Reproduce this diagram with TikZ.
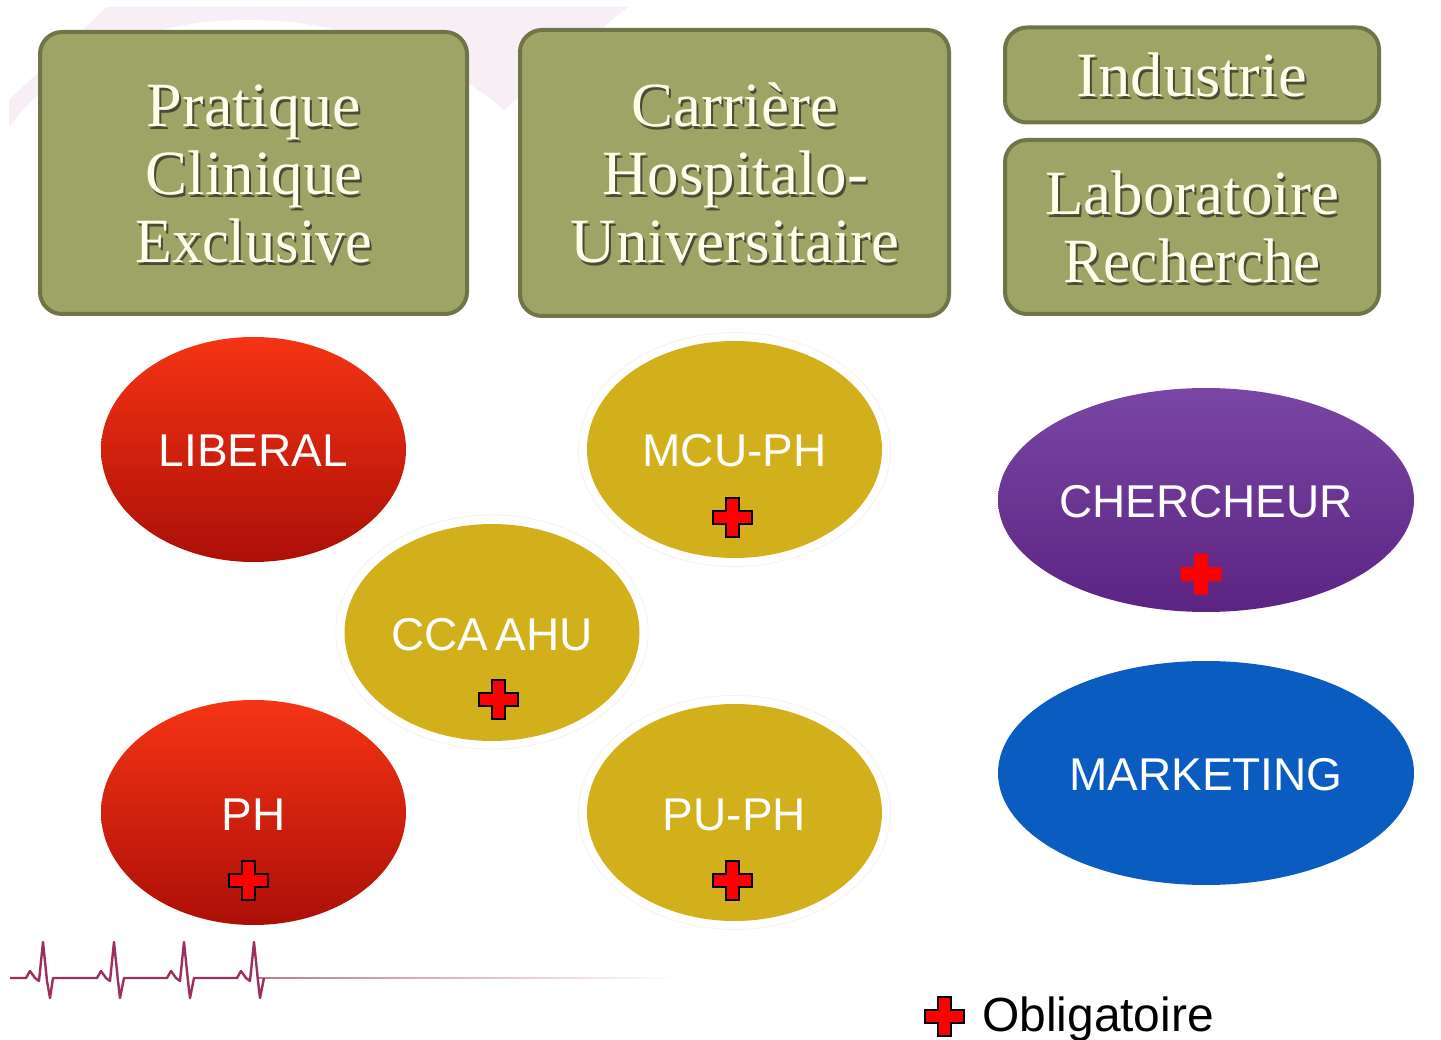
\documentclass[tikz,border=0pt]{standalone}
\usepackage{graphicx}
\usepackage{fontspec}
\setmainfont{Liberation Serif}
\setsansfont{Liberation Sans}
\usetikzlibrary{shapes.geometric}
\definecolor{olivefill}{HTML}{9EA465}
\definecolor{oliveline}{HTML}{6F7547}
\definecolor{goldfill}{HTML}{D2B01C}
\definecolor{ecg}{HTML}{9A2F60}
\definecolor{wm}{HTML}{F8EFF6}
\newcommand{\wdfit}[2]{\scalebox{#1}[1]{#2}}
\tikzset{
  x=1pt,y=-1pt,
  panel/.style={draw=oliveline,line width=4pt,fill=olivefill,rounded corners=22pt,inner sep=0pt,outer sep=0pt},
  paneltext/.style={font=\fontsize{63}{68}\selectfont,align=center,text=white!92!yellow,inner sep=0pt},
  panelshadow/.style={font=\fontsize{63}{68}\selectfont,align=center,text=black!80!olive,opacity=.8,inner sep=0pt},
  oval/.style={ellipse,inner sep=0pt,outer sep=0pt,text=white,font=\sffamily\fontsize{46}{50}\selectfont,text height=35pt,text depth=0pt},
  redoval/.style={oval,minimum width=305pt,minimum height=225pt,top color={rgb,255:red,245;green,52;blue,20},bottom color={rgb,255:red,172;green,15;blue,8}},
  goldoval/.style={oval,minimum width=295pt,minimum height=217pt,fill=goldfill},
  halo/.style={ellipse,minimum width=312pt,minimum height=234pt,inner sep=0pt,draw=black!5,line width=.8pt,fill=white},
  bigoval/.style={oval,minimum width=416pt,minimum height=224pt},
  crossmark/.style={fill=red,draw=black,line width=2pt,line join=miter},
  crossplain/.style={fill=red},
  redcross/.pic={
    \path[crossmark] (-6.5,-19.5) -- (6.5,-19.5) -- (6.5,-6.5) -- (19.5,-6.5) -- (19.5,6.5) -- (6.5,6.5) -- (6.5,19.5) -- (-6.5,19.5) -- (-6.5,6.5) -- (-19.5,6.5) -- (-19.5,-6.5) -- (-6.5,-6.5) -- cycle;
  },
  plaincross/.pic={
    \path[crossplain] (-7,-20.5) -- (7,-20.5) -- (7,-7) -- (20.5,-7) -- (20.5,7) -- (7,7) -- (7,20.5) -- (-7,20.5) -- (-7,7) -- (-20.5,7) -- (-20.5,-7) -- (-7,-7) -- cycle;
  }
}
\begin{document}
\begin{tikzpicture}
\useasboundingbox (0,0) rectangle (1441,1040);
% watermark
\fill[wm] (107,7) -- (628,7) -- (504,110)
  .. controls (440,55) and (340,18) .. (240,20)
  .. controls (140,22) and (60,60) .. (9,127)
  -- (9,100) -- cycle;
% panels
\node[panel,minimum width=427pt,minimum height=282pt] (b1) at (253.5,173) {};
\node[panel,minimum width=429pt,minimum height=286pt] (b2) at (734.5,173) {};
\node[panel,minimum width=374pt,minimum height=95pt] (b3) at (1192,75) {};
\node[panel,minimum width=374pt,minimum height=174pt] (b4) at (1192,227) {};
\node[panelshadow] (s1) at (256,176.5) {\wdfit{1.02}{Pratique}\\Clinique\\\wdfit{.955}{Exclusive}};
\node[paneltext] (t1) at (254,174) {\wdfit{1.02}{Pratique}\\Clinique\\\wdfit{.955}{Exclusive}};
\node[panelshadow] (s2) at (737,175.5) {Carrière\\Hospitalo-\\Universitaire};
\node[paneltext] (t2) at (735,173) {Carrière\\Hospitalo-\\Universitaire};
\node[panelshadow] (s3) at (1194,77.5) {\wdfit{1.03}{Industrie}};
\node[paneltext] (t3) at (1192,75) {\wdfit{1.03}{Industrie}};
\node[panelshadow] (s4) at (1194,229.5) {Laboratoire\\\wdfit{.97}{Recherche}};
\node[paneltext] (t4) at (1192,227) {Laboratoire\\\wdfit{.97}{Recherche}};
% ovals
\node[redoval] (liberal) at (253.5,449.5) {LIBERAL};
\node[redoval] (ph) at (253.5,812.5) {PH};
\node[halo] (h1) at (734.5,449.5) {};
\node[halo] (h2) at (492,632) {};
\node[halo] (h3) at (734.5,812.5) {};
\node[goldoval] (mcu) at (734.5,449.5) {MCU-PH};
\node[goldoval] (cca) at (492,632.5) {CCA\kern-.13em{} AHU};
\node[goldoval] (pu) at (734.5,812.5) {PU-PH};
\node[bigoval,top color={rgb,255:red,122;green,70;blue,163},bottom color={rgb,255:red,92;green,36;blue,130}] (cherch) at (1206,500) {CHERCHEUR};
\node[bigoval,fill={rgb,255:red,10;green,92;blue,192}] (mark) at (1206,773) {MARKETING};
% crosses
\pic at (732,517) {redcross};
\pic at (498,699) {redcross};
\pic at (248,880) {redcross};
\pic at (732,880) {redcross};
\pic at (1201,574) {plaincross};
\pic at (944,1016) {redcross};
\node[anchor=base west,inner sep=0pt,font=\sffamily\fontsize{47.9}{50}\selectfont] (oblig) at (982,1031) {Obligatoire};
% ecg
\fill[left color=ecg!65,right color=white] (258,977.2) rectangle (680,978.8);
\draw[ecg,line width=2.4pt,line join=round]
 (10,978) -- (26,978) -- (30,971) -- (35,978) -- (39,981) -- (43,942) -- (47,981) -- (50,998) -- (53,978)
 -- (97,978) -- (101,971) -- (106,978) -- (110,981) -- (114,942) -- (118,981) -- (120,998) -- (124,978)
 -- (167,978) -- (171,971) -- (176,978) -- (180,981) -- (184,942) -- (188,981) -- (190,998) -- (194,978)
 -- (237,978) -- (241,971) -- (246,978) -- (250,981) -- (254,942) -- (258,981) -- (260,998) -- (264,978);
\end{tikzpicture}
\end{document}
